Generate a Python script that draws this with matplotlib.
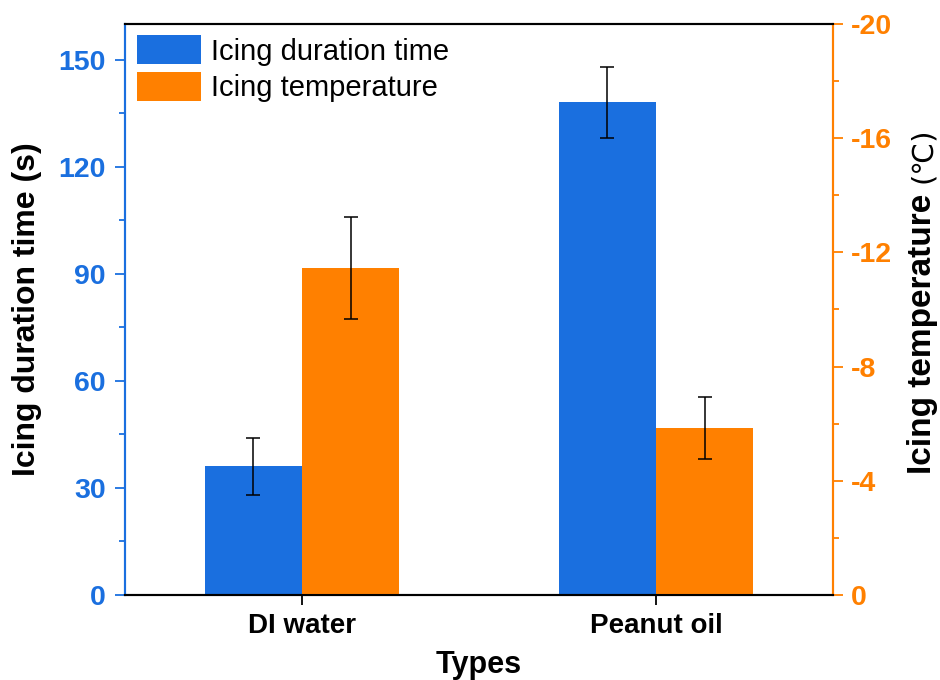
import matplotlib
matplotlib.use("Agg")
import matplotlib.pyplot as plt
import numpy as np
from matplotlib.ticker import MultipleLocator

plt.rcParams['font.family'] = ['Liberation Sans', 'DejaVu Sans']
plt.rcParams['axes.unicode_minus'] = False

types = ['DI water', 'Peanut oil']
duration = [36, 138]
duration_err = [8, 10]
temperature = [-11.45, -5.85]
temperature_err = [1.8, 1.1]

blue = '#1a6fdf'
orange = '#ff8000'

fig = plt.figure(figsize=(9.4, 6.8), dpi=100)
ax = fig.add_axes([0.133, 0.125, 0.753, 0.84])
ax2 = ax.twinx()

x = np.arange(len(types))
w = 0.275
ekw = dict(elinewidth=1.1, capthick=1.1, ecolor='black')
b1 = ax.bar(x - w / 2, duration, w, color=blue, yerr=duration_err, capsize=5, error_kw=ekw)
b2 = ax2.bar(x + w / 2, temperature, w, color=orange, yerr=temperature_err, capsize=5, error_kw=ekw)

ax.set_xlim(-0.5, 1.5)
ax.set_ylim(0, 160)
ax2.set_ylim(0, -20)
ax.yaxis.set_major_locator(MultipleLocator(30))
ax.yaxis.set_minor_locator(MultipleLocator(15))
ax2.yaxis.set_major_locator(MultipleLocator(4))
ax2.yaxis.set_minor_locator(MultipleLocator(2))

ax.set_xticks(x)
ax.set_xticklabels(types, fontsize=20, fontweight='bold')

ax.tick_params(axis='y', colors=blue, labelsize=20.5, length=7, width=1.3, pad=7)
ax.tick_params(axis='y', which='minor', colors=blue, length=4, width=1.3)
ax.tick_params(axis='x', length=7, width=1.3, pad=6)
for t in ax.get_yticklabels():
    t.set_fontweight('bold')
ax2.tick_params(axis='y', colors=orange, labelsize=20.5, length=7, width=1.3, pad=6)
ax2.tick_params(axis='y', which='minor', colors=orange, length=4, width=1.3)
for t in ax2.get_yticklabels():
    t.set_fontweight('bold')

for a in (ax, ax2):
    a.spines['left'].set_color(blue)
    a.spines['right'].set_color(orange)
    a.spines['top'].set_color('black')
    a.spines['bottom'].set_color('black')
    for s in a.spines.values():
        s.set_linewidth(1.5)

ax.set_xlabel('Types', fontsize=22, fontweight='bold', labelpad=8)
ax.set_ylabel('Icing duration time (s)', fontsize=23, fontweight='bold', labelpad=12)

# right label: bold words, thin unit
ax2.text(1.127, 0.457, 'Icing temperature', rotation=90, fontsize=24, fontweight='bold',
         ha='center', va='center', transform=ax2.transAxes)
ax2.text(1.127, 0.77, '(℃)', rotation=90, fontsize=21, fontweight='normal',
         family=['DejaVu Sans'], ha='center', va='center', transform=ax2.transAxes)

ax.legend([b1, b2], ['Icing duration time', 'Icing temperature'], loc='upper left',
          frameon=False, fontsize=21, handlelength=2.2, handleheight=1.15,
          borderaxespad=0.3, borderpad=0.1, labelspacing=0.2, handletextpad=0.35)

fig.savefig('out.png', dpi=100)
